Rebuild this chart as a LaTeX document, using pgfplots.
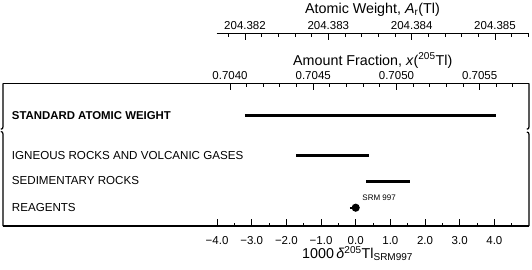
\documentclass[border=0pt]{standalone}
\usepackage{pgfplots}
\pgfplotsset{compat=1.18}
\usepackage{fontspec}
\setmainfont{Liberation Sans}
\begin{document}
\begin{tikzpicture}[x=1pt,y=1pt]
\path[use as bounding box] (0,0) rectangle (532,269);
% main axis (delta scale)
\begin{axis}[
  at={(3pt,43pt)}, anchor=south west,
  scale only axis, width=526pt, height=142.7pt,
  xmin=-10.176, xmax=5, ymin=0, ymax=142.7,
  separate axis lines, axis x line*=bottom, axis y line=none,
  x axis line style={line width=1.2pt},
  xtick={-4,-3,-2,-1,0,1,2,3,4},
  xticklabels={−4.0,−3.0,−2.0,−1.0,0.0,1.0,2.0,3.0,4.0},
  minor xtick={-3.5,-2.5,-1.5,-0.5,0.5,1.5,2.5,3.5,4.5},
  tick align=inside, major tick length=7pt, minor tick length=3.5pt,
  every tick/.style={black, line width=1pt},
  xticklabel style={font=\fontsize{11.5}{13}\selectfont, yshift=-6.5pt},
  clip=false,
]
\addplot[black, line width=3pt] coordinates {(-3.2,110.3) (4.05,110.3)};
\addplot[black, line width=3pt] coordinates {(-1.72,70.7) (0.39,70.7)};
\addplot[black, line width=3pt] coordinates {(0.30,45) (1.57,45)};
\addplot[black, line width=2pt, mark=*, mark size=3pt, mark indices={2}, mark options={fill=black}] coordinates {(-0.17,18.3) (0,18.3)};
\node[anchor=west, inner sep=0pt, font=\fontsize{11.4}{13}\selectfont\bfseries] at (axis cs:-10.176,110.3) [xshift=8.7pt] {STANDARD ATOMIC WEIGHT};
\node[anchor=west, inner sep=0pt, font=\fontsize{11.6}{13}\selectfont] at (axis cs:-10.176,70.7) [xshift=8.7pt] {IGNEOUS ROCKS AND VOLCANIC GASES};
\node[anchor=west, inner sep=0pt, font=\fontsize{11.6}{13}\selectfont] at (axis cs:-10.176,45) [xshift=8.7pt] {SEDIMENTARY ROCKS};
\node[anchor=west, inner sep=0pt, font=\fontsize{11.6}{13}\selectfont] at (axis cs:-10.176,18.3) [xshift=8.7pt] {REAGENTS};
\node[anchor=west, inner sep=0pt, font=\fontsize{8}{9}\selectfont] at (axis cs:0.19,28.7) {SRM 997};
\end{axis}
% amount fraction axis (box top), units of 0.0001 relative to 0.7040
\begin{axis}[
  at={(3pt,185.7pt)}, anchor=north west,
  scale only axis, width=526pt, height=20pt,
  xmin=-13.637, xmax=17.962, ymin=0, ymax=1,
  separate axis lines, axis x line*=top, axis y line=none,
  x axis line style={line width=1.2pt},
  xtick={0,5,10,15}, xticklabels={0.7040,0.7045,0.7050,0.7055},
  minor xtick={1,2,3,4,6,7,8,9,11,12,13,14,16,17},
  tick align=inside, major tick length=7pt, minor tick length=3.5pt,
  every tick/.style={black, line width=1pt},
  xticklabel style={font=\fontsize{11.5}{13}\selectfont},
]
\end{axis}
% atomic weight axis, units of 0.0001 relative to 204.380
\begin{axis}[
  at={(216.7pt,235.7pt)}, anchor=north west,
  scale only axis, width=312.3pt, height=20pt,
  xmin=16.604, xmax=54.08, ymin=0, ymax=1,
  separate axis lines, axis x line*=top, axis y line=none,
  x axis line style={line width=1.2pt},
  xtick={20,30,40,50}, xticklabels={204.382,204.383,204.384,204.385},
  minor xtick={18,22,24,26,28,32,34,36,38,42,44,46,48,52,54},
  tick align=inside, major tick length=7pt, minor tick length=3.5pt,
  every tick/.style={black, line width=1pt},
  xticklabel style={font=\fontsize{11.5}{13}\selectfont},
]
\end{axis}
% box side edges with break marks
\draw[line width=1.2pt] (3,185.7) -- (3,142.3) .. controls (3,140.6) and (2.4,140) .. (0.8,139.8);
\draw[line width=1.2pt] (0.8,137.5) .. controls (2.4,137.3) and (3,136.6) .. (3,134.8) -- (3,43);
\draw[line width=1.2pt] (529,185.7) -- (529,142.3) .. controls (529,140.6) and (528.4,140) .. (526.8,139.8);
\draw[line width=1.2pt] (526.8,137) .. controls (528.4,136.8) and (529,136.1) .. (529,134.3) -- (529,43);
% titles
\node[anchor=base west, inner sep=0pt, font=\fontsize{14.3}{16}\selectfont] at (305,256) {Atomic Weight, \textit{A}\textsubscript{r}(Tl)};
\node[anchor=base west, inner sep=0pt, font=\fontsize{14.3}{16}\selectfont] at (293,204) {Amount Fraction, \textit{x}(\textsuperscript{205}Tl)};
\node[anchor=base west, inner sep=0pt, font=\fontsize{14.3}{16}\selectfont] at (302,10.5) {1000\,\textit{δ}\textsuperscript{205}Tl\textsubscript{SRM997}};
\end{tikzpicture}
\end{document}
